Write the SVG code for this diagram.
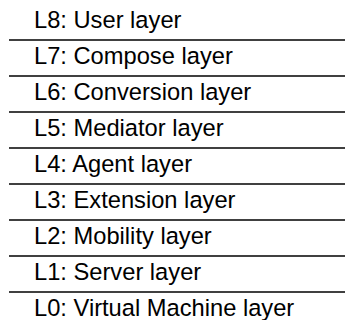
<svg xmlns="http://www.w3.org/2000/svg" width="345" height="320" viewBox="0 0 345 320">
  <style>
    .label { font-family: "Liberation Sans", Arial, sans-serif; font-size: 23.7px; fill: #000; }
    .sep { stroke: #000; stroke-width: 1.3; }
  </style>
  <rect width="345" height="320" fill="#fff"/>
  <g id="layers">
    <g id="l8"><text class="label" x="34" y="28">L8: User layer</text></g>
    <g id="l7"><text class="label" x="34" y="64">L7: Compose layer</text></g>
    <g id="l6"><text class="label" x="34" y="100">L6: Conversion layer</text></g>
    <g id="l5"><text class="label" x="34" y="136">L5: Mediator layer</text></g>
    <g id="l4"><text class="label" x="34" y="172">L4: Agent layer</text></g>
    <g id="l3"><text class="label" x="34" y="208">L3: Extension layer</text></g>
    <g id="l2"><text class="label" x="34" y="244">L2: Mobility layer</text></g>
    <g id="l1"><text class="label" x="34" y="280">L1: Server layer</text></g>
    <g id="l0"><text class="label" x="34" y="316">L0: Virtual Machine layer</text></g>
  </g>
  <g id="separators">
    <line class="sep" x1="9" y1="40" x2="345" y2="40"/>
    <line class="sep" x1="9" y1="76" x2="345" y2="76"/>
    <line class="sep" x1="9" y1="112" x2="345" y2="112"/>
    <line class="sep" x1="9" y1="148" x2="345" y2="148"/>
    <line class="sep" x1="9" y1="184" x2="345" y2="184"/>
    <line class="sep" x1="9" y1="220" x2="345" y2="220"/>
    <line class="sep" x1="9" y1="256" x2="345" y2="256"/>
    <line class="sep" x1="9" y1="292" x2="345" y2="292"/>
  </g>
</svg>
